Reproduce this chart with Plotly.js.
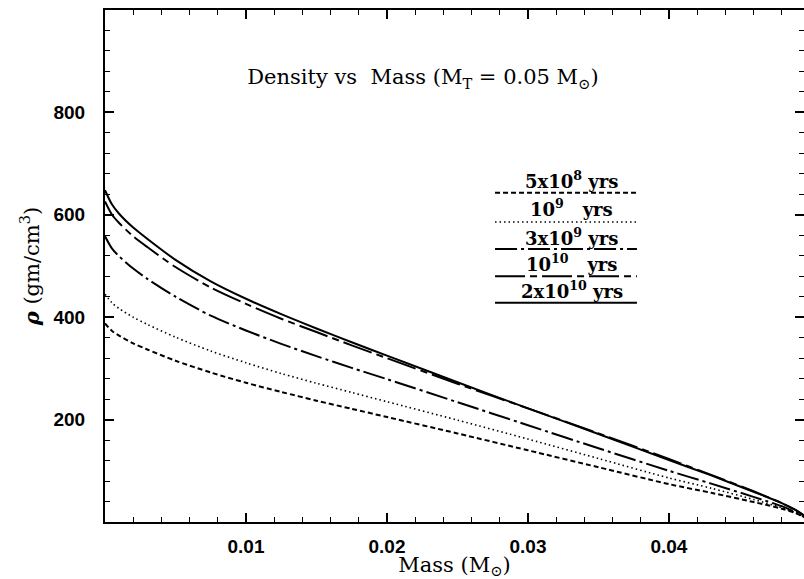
<!DOCTYPE html>
<html>
<head>
<meta charset="utf-8">
<script src="https://cdn.plot.ly/plotly-3.0.1.min.js"></script>
<style>
body{margin:0;padding:0;background:#fff;}
#chart{width:804px;height:579px;}
</style>
</head>
<body>
<div id="chart"></div>
<script>
// Enclosed mass (solar masses)
var mass = [0, 0.0005, 0.001, 0.002, 0.003, 0.005, 0.0075, 0.01, 0.0125, 0.015, 0.0175, 0.02, 0.025, 0.03, 0.035, 0.04, 0.043, 0.046, 0.048, 0.049, 0.05];
// Density (gm/cm^3) for each age
var rho_5e8  = [388, 373, 364, 349, 337, 315, 292, 272, 254, 237, 221, 205, 173, 140, 107, 74, 57, 39, 26, 17, 4];
var rho_1e9  = [445, 428, 417, 400, 386, 361, 334, 311, 290, 271, 253, 235, 199, 162, 124, 86, 66, 44, 28, 18, 4];
var rho_3e9  = [558, 534, 519, 495, 475, 440, 403, 374, 348, 324, 301, 279, 234, 189, 144, 100, 75, 49, 31, 19, 4];
var rho_1e10 = [626, 600, 584, 558, 537, 498, 458, 426, 397, 371, 345, 320, 270, 222, 173, 123, 92, 60, 37, 23, 5];
var rho_2e10 = [648, 620, 602, 575, 553, 512, 470, 436, 406, 378, 351, 325, 273, 222, 172, 121, 91, 59, 37, 23, 5];

var seriesNames = ['5x10<sup>8</sup> yrs', '10<sup>9</sup>\u00a0\u00a0\u00a0yrs', '3x10<sup>9</sup> yrs', '10<sup>10</sup>\u00a0\u00a0\u00a0yrs', '2x10<sup>10</sup> yrs'];
var seriesData = [rho_5e8, rho_1e9, rho_3e9, rho_1e10, rho_2e10];
var seriesDash = ['5px,3px', '1.5px,3px', '22px,4px,3px,4px', '30px,5px,7px,5px', 'solid'];
var seriesWidth = [2, 1.6, 2, 2, 2];

var xTicks = [0.01, 0.02, 0.03, 0.04];
var yTicks = [200, 400, 600, 800];

var traces = seriesData.map(function(d, i){
  return {x: mass, y: d, type: 'scatter', mode: 'lines', name: seriesNames[i],
          line: {color: '#000', width: seriesWidth[i], dash: seriesDash[i], shape: 'spline', smoothing: 0.8},
          showlegend: false, hoverinfo: 'skip'};
});

// legend drawn as text over line samples
var legX0 = 0.558, legX1 = 0.761, legXc = 0.668;
var legLineY = [0.643, 0.586, 0.533, 0.480, 0.428];
var legTextY = [0.668, 0.613, 0.557, 0.506, 0.453];
var shapes = [], annotations = [];
seriesNames.forEach(function(n, i){
  shapes.push({type:'line', xref:'paper', yref:'paper', x0:legX0, x1:legX1, y0:legLineY[i], y1:legLineY[i],
               line:{color:'#000', width: seriesWidth[i], dash: seriesDash[i]}});
  annotations.push({xref:'paper', yref:'paper', x:legXc, y:legTextY[i], text:n, showarrow:false,
               xanchor:'center', yanchor:'middle',
               font:{family:'DejaVu Serif', size:18, color:'#000', weight:'bold'}});
});

var tickFont = {family:'Liberation Sans', size:19, color:'#000', weight:'bold'};

var layout = {
  width: 804, height: 579,
  margin: {l:105, r:0, t:10, b:57},
  paper_bgcolor:'#fff', plot_bgcolor:'#fff',
  title: {text:'Density vs  Mass (M<sub>T</sub> = 0.05 M<sub>\u2299</sub>)',
          x:0.526, xref:'container', xanchor:'center', y:0.867, yref:'container', yanchor:'middle',
          font:{family:'DejaVu Serif', size:21, color:'#000'}},
  xaxis: {range:[0, 0.04958], tickmode:'array', tickvals:xTicks, ticktext:xTicks.map(String),
          ticks:'inside', ticklen:9, tickwidth:1.5, tickcolor:'#000',
          minor:{dtick:0.002, tick0:0, ticks:'inside', ticklen:5, tickwidth:1.2, tickcolor:'#000'},
          showline:true, linecolor:'#000', linewidth:2, mirror:'allticks',
          showgrid:false, zeroline:false, tickfont:tickFont, ticklabelstandoff:6,
          title:{text:'Mass (M<sub>\u2299</sub>)', standoff:1, font:{family:'DejaVu Serif', size:21, color:'#000'}}},
  yaxis: {range:[0, 1000], tickmode:'array', tickvals:yTicks, ticktext:yTicks.map(String),
          ticks:'inside', ticklen:9, tickwidth:1.5, tickcolor:'#000',
          minor:{dtick:40, tick0:0, ticks:'inside', ticklen:5, tickwidth:1.2, tickcolor:'#000'},
          showline:true, linecolor:'#000', linewidth:2, mirror:'allticks',
          showgrid:false, zeroline:false, tickfont:tickFont, ticklabelstandoff:14,
          title:{text:'<i><b>\u03c1</b></i> (gm/cm<sup>3</sup>)', standoff:8, font:{family:'DejaVu Serif', size:21, color:'#000'}}},
  shapes: shapes,
  annotations: annotations,
  showlegend: false
};

Plotly.newPlot('chart', traces, layout, {displayModeBar:false});
</script>
</body>
</html>
